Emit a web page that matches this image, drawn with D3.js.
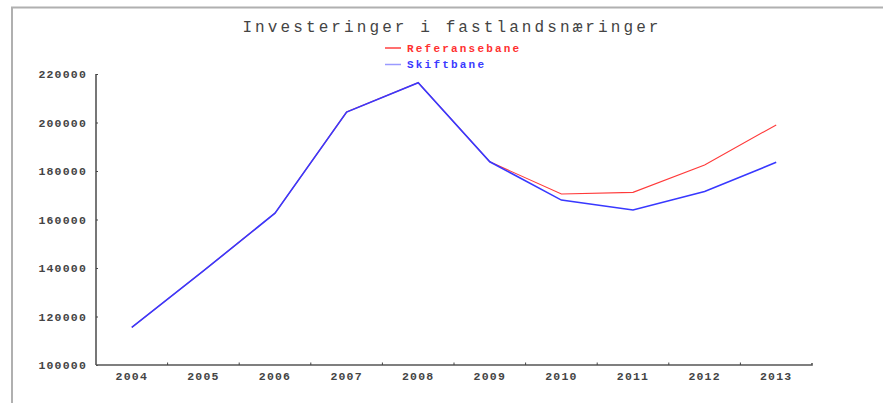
<!DOCTYPE html>
<html>
<head>
<meta charset="utf-8">
<script src="https://cdn.jsdelivr.net/npm/d3@7"></script>
<style>
  body { margin: 0; background: #fff; }
  svg { display: block; }
</style>
</head>
<body>
<svg id="chart" width="883" height="403"></svg>
<script>
  // Data
  var years = ["2004", "2005", "2006", "2007", "2008", "2009", "2010", "2011", "2012", "2013"];
  var referansebane = [115500, 138800, 162600, 204300, 216400, 183800, 170500, 171200, 182500, 199000];
  var skiftbane     = [115500, 138800, 162600, 204300, 216400, 183800, 168000, 163900, 171500, 183600];
  var yTicks = [100000, 120000, 140000, 160000, 180000, 200000, 220000];

  var svg = d3.select("#chart");

  // frame round the picture
  svg.append("path")
      .attr("d", "M12,403V7.5H883")
      .attr("fill", "none")
      .attr("stroke", "#b0b0b0")
      .attr("stroke-width", 2);

  var x = d3.scaleBand().domain(years).range([96, 812]);
  var y = d3.scaleLinear().domain([100000, 220000]).range([365, 74]);

  // title
  svg.append("text")
      .attr("x", 452).attr("y", 32)
      .attr("text-anchor", "middle")
      .attr("font-family", "Liberation Mono, monospace")
      .attr("font-size", 16)
      .attr("letter-spacing", 3.1)
      .attr("fill", "#444")
      .text("Investeringer i fastlandsnæringer");

  // legend
  var legend = [
    { name: "Referansebane", line: "#ff4040", text: "#ff3030" },
    { name: "Skiftbane",     line: "#9a9aff", text: "#3a3aff" }
  ];
  var lg = svg.selectAll(".legend").data(legend).enter().append("g")
      .attr("class", "legend")
      .attr("transform", function(d, i) { return "translate(385," + (48 + i * 16.5) + ")"; });
  lg.append("line")
      .attr("x1", 0).attr("x2", 16)
      .attr("stroke", function(d) { return d.line; })
      .attr("stroke-width", 1.5);
  lg.append("text")
      .attr("x", 22).attr("dy", "0.35em")
      .attr("font-family", "Liberation Mono, monospace")
      .attr("font-weight", "bold")
      .attr("font-size", 11)
      .attr("letter-spacing", 2.2)
      .attr("fill", function(d) { return d.text; })
      .text(function(d) { return d.name; });

  // y axis
  var yAxis = svg.append("g").attr("transform", "translate(96,0)")
      .call(d3.axisLeft(y).tickValues(yTicks).tickSize(-2).tickPadding(9).tickFormat(d3.format("d")));
  yAxis.select(".domain").attr("d", "M0," + y(220000) + "V" + y(100000));

  // x axis, ticks on band edges
  var xAxis = svg.append("g").attr("transform", "translate(0,365)")
      .call(d3.axisBottom(x).tickSize(0).tickPadding(7));
  xAxis.select(".domain").attr("d", "M96,0H812V-2");
  xAxis.selectAll(".edge").data(years.slice(1)).enter().append("line")
      .attr("class", "edge")
      .attr("x1", function(d) { return x(d); }).attr("x2", function(d) { return x(d); })
      .attr("y1", 0).attr("y2", -2.5)
      .attr("stroke", "#444");

  svg.selectAll(".domain").attr("stroke", "#555").attr("stroke-width", 1.6);
  svg.selectAll(".tick line").attr("stroke", "#444");
  svg.selectAll(".tick text")
      .attr("font-family", "Liberation Mono, monospace")
      .attr("font-weight", "bold")
      .attr("font-size", 11.5)
      .attr("letter-spacing", 1.2)
      .attr("fill", "#444");

  // series
  var line = d3.line()
      .x(function(d, i) { return x(years[i]) + x.bandwidth() / 2; })
      .y(function(d) { return y(d); });

  svg.append("path").datum(referansebane)
      .attr("d", line)
      .attr("fill", "none")
      .attr("stroke", "#ff3a3a")
      .attr("stroke-width", 1.1);
  svg.append("path").datum(skiftbane)
      .attr("d", line)
      .attr("fill", "none")
      .attr("stroke", "#3838ff")
      .attr("stroke-width", 1.6);
</script>
</body>
</html>
